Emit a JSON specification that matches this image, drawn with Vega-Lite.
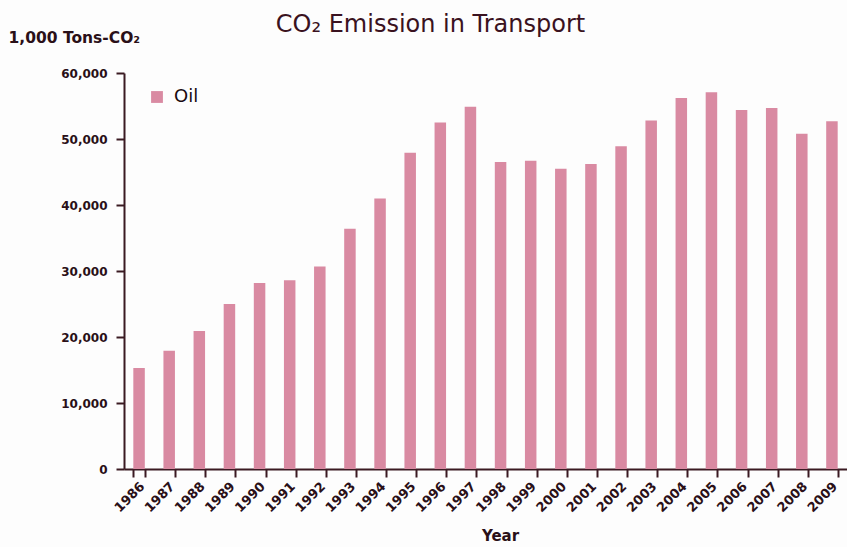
{
  "$schema": "https://vega.github.io/schema/vega-lite/v6.json",
  "width": 723,
  "height": 396,
  "autosize": "none",
  "padding": {"left": 124, "top": 73, "right": 0, "bottom": 78},
  "background": "#fdfdfd",
  "config": {"view": {"stroke": null}, "font": "DejaVu Sans"},
  "title": {
    "text": "CO₂ Emission in Transport",
    "font": "DejaVu Sans",
    "fontSize": 24,
    "fontWeight": "normal",
    "color": "#3a1220",
    "anchor": "middle",
    "frame": "group",
    "dx": -55,
    "offset": -26,
    "baseline": "alphabetic"
  },
  "data": {
    "values": [
      {"Year": "1986", "Source": "Oil", "Emission": 15300},
      {"Year": "1987", "Source": "Oil", "Emission": 17900},
      {"Year": "1988", "Source": "Oil", "Emission": 20900},
      {"Year": "1989", "Source": "Oil", "Emission": 25000},
      {"Year": "1990", "Source": "Oil", "Emission": 28200},
      {"Year": "1991", "Source": "Oil", "Emission": 28600},
      {"Year": "1992", "Source": "Oil", "Emission": 30700},
      {"Year": "1993", "Source": "Oil", "Emission": 36400},
      {"Year": "1994", "Source": "Oil", "Emission": 41000},
      {"Year": "1995", "Source": "Oil", "Emission": 47900},
      {"Year": "1996", "Source": "Oil", "Emission": 52500},
      {"Year": "1997", "Source": "Oil", "Emission": 54900},
      {"Year": "1998", "Source": "Oil", "Emission": 46500},
      {"Year": "1999", "Source": "Oil", "Emission": 46700},
      {"Year": "2000", "Source": "Oil", "Emission": 45500},
      {"Year": "2001", "Source": "Oil", "Emission": 46200},
      {"Year": "2002", "Source": "Oil", "Emission": 48900},
      {"Year": "2003", "Source": "Oil", "Emission": 52800},
      {"Year": "2004", "Source": "Oil", "Emission": 56200},
      {"Year": "2005", "Source": "Oil", "Emission": 57100},
      {"Year": "2006", "Source": "Oil", "Emission": 54400},
      {"Year": "2007", "Source": "Oil", "Emission": 54700},
      {"Year": "2008", "Source": "Oil", "Emission": 50800},
      {"Year": "2009", "Source": "Oil", "Emission": 52700}
    ]
  },
  "mark": {"type": "bar", "width": 11.5},
  "encoding": {
    "x": {
      "field": "Year",
      "type": "nominal",
      "scale": {"paddingInner": 0.6, "paddingOuter": 0.3},
      "axis": {
        "title": "Year",
        "titleFont": "DejaVu Sans",
        "titleFontSize": 15,
        "titleFontWeight": "bold",
        "titleColor": "#2a1018",
        "titleX": 376,
        "titleY": 66,
        "titleAlign": "center",
        "titleBaseline": "middle",
        "labelAngle": -45,
        "labelAlign": "right",
        "labelBaseline": "middle",
        "labelFont": "DejaVu Sans",
        "labelFontSize": 13,
        "labelFontWeight": "bold",
        "labelColor": "#2a1018",
        "labelPadding": 7,
        "labelOffset": 3,
        "domainColor": "#3a1a22",
        "domainWidth": 2,
        "tickColor": "#3a1a22",
        "tickWidth": 2,
        "tickSize": 8,
        "tickBand": "extent"
      }
    },
    "y": {
      "field": "Emission",
      "type": "quantitative",
      "scale": {"domain": [0, 60000]},
      "axis": {
        "title": "1,000 Tons-CO₂",
        "titleFont": "DejaVu Sans",
        "titleAngle": 0,
        "titleAlign": "left",
        "titleBaseline": "middle",
        "titleX": -116,
        "titleY": -36,
        "titleFontSize": 15.5,
        "titleFontWeight": "bold",
        "titleColor": "#2a1018",
        "values": [0, 10000, 20000, 30000, 40000, 50000, 60000],
        "format": ",d",
        "grid": false,
        "labelFont": "DejaVu Sans",
        "labelFontSize": 12,
        "labelFontWeight": "bold",
        "labelColor": "#2a1018",
        "labelPadding": 9,
        "domainColor": "#3a1a22",
        "domainWidth": 2,
        "tickColor": "#3a1a22",
        "tickWidth": 2,
        "tickSize": 8
      }
    },
    "color": {
      "field": "Source",
      "type": "nominal",
      "scale": {"range": ["#d98aa2"]},
      "legend": {
        "title": null,
        "orient": "none",
        "legendX": 24,
        "legendY": 15,
        "symbolType": "square",
        "symbolSize": 140,
        "symbolStrokeWidth": 0,
        "symbolFillColor": "#eaaabb",
        "labelFontSize": 18,
        "labelColor": "#1a0a10",
        "labelFont": "DejaVu Sans",
        "labelOffset": 8
      }
    }
  }
}
